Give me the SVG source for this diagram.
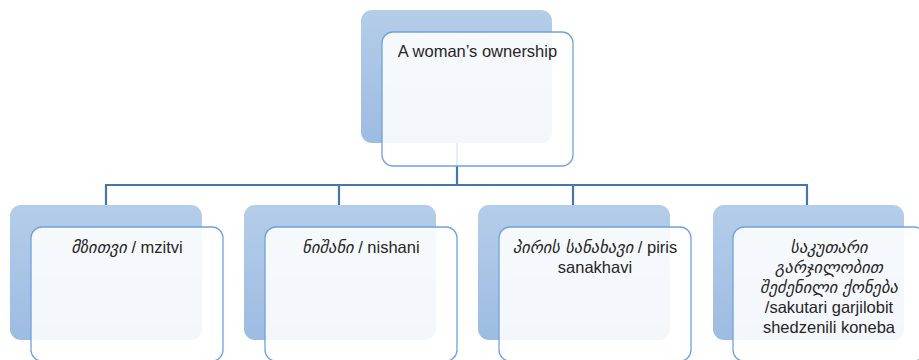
<svg xmlns="http://www.w3.org/2000/svg" width="919" height="360" viewBox="0 0 919 360">
<defs>
<linearGradient id="bg" x1="0" y1="0" x2="0" y2="1">
<stop offset="0" stop-color="#b4cde9"/>
<stop offset="1" stop-color="#9dbce2"/>
</linearGradient>
<style>
.back{fill:url(#bg);}
.front{fill:#ffffff;fill-opacity:0.88;stroke:#6fa3da;stroke-width:1.3;}
.conn{fill:none;stroke:#4677ab;stroke-width:2.2;}
.t{font-family:"Liberation Sans","DejaVu Sans",sans-serif;font-size:16.5px;fill:#262626;text-anchor:middle;}
.g{font-family:"DejaVu Sans",sans-serif;font-style:italic;font-size:16.5px;}
</style>
</defs>
<rect width="919" height="360" fill="#ffffff"/>
<g id="connectors">
<path class="conn" d="M457,143 V185 M105,185 H808 M106,185 V205 M339,185 V205 M573,185 V205 M807,185 V205"/>
</g>
<g id="node-top">
<rect class="back" x="361" y="10" width="191" height="133" rx="11"/>
<rect class="front" x="382" y="32" width="191" height="134" rx="11"/>
<text class="t" x="477.5" y="57">A woman’s ownership</text>
</g>
<g id="node-mzitvi">
<rect class="back" x="10" y="205" width="192" height="135" rx="11"/>
<rect class="front" x="31" y="227" width="192" height="134" rx="11"/>
<text class="t" x="127" y="253"><tspan class="g">მზითვი</tspan> / mzitvi</text>
</g>
<g id="node-nishani">
<rect class="back" x="244" y="205" width="192" height="135" rx="11"/>
<rect class="front" x="265" y="227" width="192" height="134" rx="11"/>
<text class="t" x="361" y="253"><tspan class="g">ნიშანი</tspan> / nishani</text>
</g>
<g id="node-piris">
<rect class="back" x="478" y="205" width="192" height="135" rx="11"/>
<rect class="front" x="499" y="227" width="192" height="134" rx="11"/>
<text class="t" x="595" y="253"><tspan class="g">პირის სანახავი</tspan> / piris</text>
<text class="t" x="595" y="273">sanakhavi</text>
</g>
<g id="node-sakutari">
<rect class="back" x="713" y="205" width="191" height="135" rx="11"/>
<rect class="front" x="733" y="227" width="192" height="134" rx="11"/>
<text class="t g" x="829" y="253">საკუთარი</text>
<text class="t g" x="829" y="273">გარჯილობით</text>
<text class="t g" x="829" y="293">შეძენილი ქონება</text>
<text class="t" x="829" y="313">/sakutari garjilobit</text>
<text class="t" x="829" y="333">shedzenili koneba</text>
</g>
</svg>
